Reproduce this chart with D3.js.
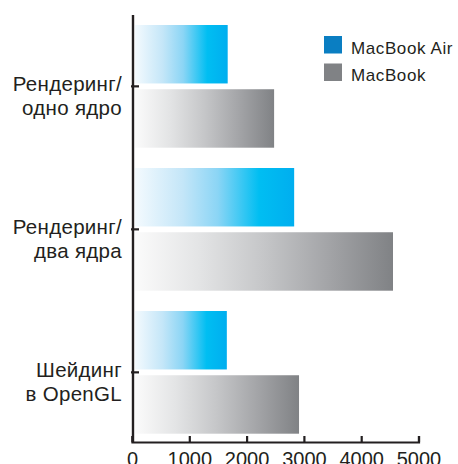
<!DOCTYPE html>
<html>
<head>
<meta charset="utf-8">
<script src="https://cdn.jsdelivr.net/npm/d3@7"></script>
<style>
  body { margin: 0; background: #fff; }
  svg { display: block; font-family: "Liberation Sans", Arial, sans-serif; }
</style>
</head>
<body>
<div id="chart"></div>
<script>
// data
const categories = ['Рендеринг/\nодно ядро', 'Рендеринг/\nдва ядра', 'Шейдинг\nв OpenGL'];
const series = ['MacBook Air', 'MacBook'];
const airValues = [1670, 2830, 1655];
const macbookValues = [2480, 4555, 2915];
const xTicks = [0, 1000, 2000, 3000, 4000, 5000];

const w = 458;
const h = 464;
const ink = '#231f20';

const svg = d3.select('#chart')
    .append('svg')
    .attr('width', w)
    .attr('height', h);

const defs = svg.append('defs');

// gradients, one per series, running left to right along each bar
const blueGrad = defs.append('linearGradient').attr('id', 'g-air');
[[0, '#f4fafe'], [0.3, '#c4e6f8'], [0.52, '#8bd5f5'], [0.78, '#00bef2'], [1, '#00aeef']]
    .forEach(s => blueGrad.append('stop').attr('offset', s[0]).attr('stop-color', s[1]));

const greyGrad = defs.append('linearGradient').attr('id', 'g-mb');
[[0, '#fbfbfb'], [0.25, '#e3e4e5'], [0.5, '#c5c6c8'], [0.75, '#a3a4a7'], [1, '#808285']]
    .forEach(s => greyGrad.append('stop').attr('offset', s[0]).attr('stop-color', s[1]));

const fills = { 'MacBook Air': 'url(#g-air)', 'MacBook': 'url(#g-mb)' };
const swatch = { 'MacBook Air': '#0a7ec2', 'MacBook': '#808285' };

const xScale = d3.scaleLinear([0, 5000], [132, 418.5]);

const yOuter = d3.scaleBand(categories, [25, 433.7])
    .paddingInner(0.142)
    .paddingOuter(0);

const yInner = d3.scaleBand(series, [0, yOuter.bandwidth()])
    .paddingInner(0.09)
    .paddingOuter(0);

const rows = [];
categories.forEach((c, i) => {
    rows.push({ cat: c, key: 'MacBook Air', value: airValues[i] });
    rows.push({ cat: c, key: 'MacBook', value: macbookValues[i] });
});

// bars
svg.append('g')
    .selectAll('rect')
    .data(rows)
    .join('rect')
    .attr('x', xScale(0) + 3)
    .attr('y', d => yOuter(d.cat) + yInner(d.key))
    .attr('width', d => xScale(d.value) - xScale(0) - 3)
    .attr('height', yInner.bandwidth())
    .attr('fill', d => fills[d.key]);

// x axis
const xAxis = d3.axisBottom(xScale)
    .tickValues(xTicks)
    .tickFormat(d3.format('d'))
    .tickSizeInner(-6)
    .tickSizeOuter(-6)
    .tickPadding(10);

svg.append('g')
    .attr('transform', 'translate(0,442)')
    .call(xAxis)
    .call(g => g.select('.domain').attr('stroke', ink).attr('stroke-width', 2.2))
    .call(g => g.selectAll('.tick line').attr('stroke', ink).attr('stroke-width', 2.2))
    .call(g => g.selectAll('.tick text')
        .attr('fill', ink)
        .attr('font-size', 20)
        .attr('font-family', '"Liberation Sans", Arial, sans-serif'));

// y axis line
svg.append('line')
    .attr('x1', 133).attr('x2', 133)
    .attr('y1', 15).attr('y2', 443)
    .attr('stroke', ink)
    .attr('stroke-width', 2.4);

// category ticks sit between the two bars of a group
const tickY = c => yOuter(c) + yInner('MacBook') - yInner.step() * yInner.paddingInner() / 2;

svg.append('g')
    .selectAll('line')
    .data(categories)
    .join('line')
    .attr('x1', 131).attr('x2', 139)
    .attr('y1', tickY).attr('y2', tickY)
    .attr('stroke', ink)
    .attr('stroke-width', 2.2);

// category labels, two lines each
const labels = svg.append('g')
    .selectAll('text')
    .data(categories)
    .join('text')
    .attr('text-anchor', 'end')
    .attr('font-size', 20.5)
    .attr('letter-spacing', 0.3)
    .attr('fill', ink)
    .attr('y', d => tickY(d) + 5);

labels.selectAll('tspan')
    .data(d => d.split('\n'))
    .join('tspan')
    .attr('x', 122)
    .attr('dy', (d, i) => i === 0 ? 0 : 24)
    .text(d => d);

// legend
const legend = svg.append('g')
    .selectAll('g')
    .data(series)
    .join('g')
    .attr('transform', (d, i) => 'translate(324,' + (36 + i * 27.5) + ')');

legend.append('rect')
    .attr('width', 18)
    .attr('height', 17.5)
    .attr('fill', d => swatch[d]);

legend.append('text')
    .attr('x', 27)
    .attr('y', 17.5)
    .attr('font-size', 17)
    .attr('letter-spacing', 0.6)
    .attr('fill', ink)
    .text(d => d);
</script>
</body>
</html>
